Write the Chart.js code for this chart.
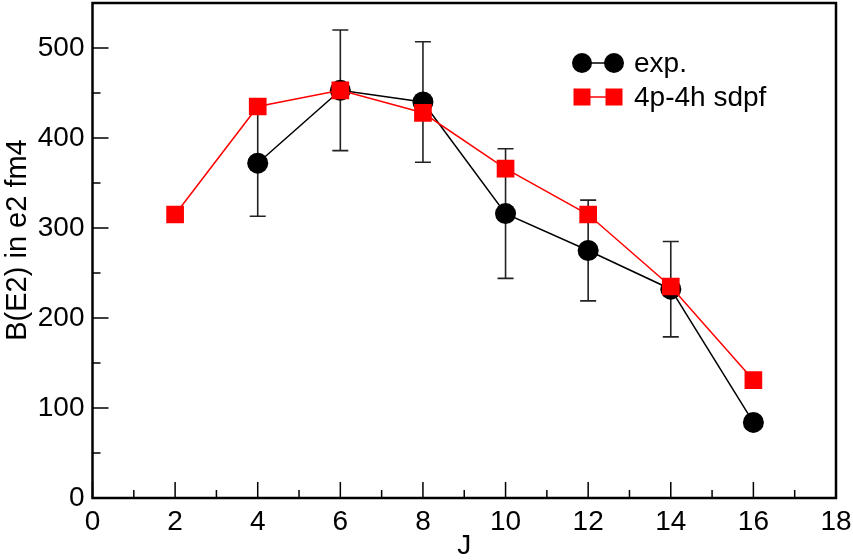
<!DOCTYPE html>
<html>
<head>
<meta charset="utf-8">
<title>B(E2) vs J</title>
<script src="https://cdn.jsdelivr.net/npm/chart.js@4.4.1/dist/chart.umd.min.js"></script>
<style>
  body { margin: 0; background: #fff; }
  canvas { display: block; }
</style>
</head>
<body>
<canvas id="be2Chart" width="853" height="560"></canvas>
<script>
// Values
const jExp = [4, 6, 8, 10, 12, 14, 16];
const bExp = [372, 453, 440, 316, 275, 232, 84];
const errExp = [59, 67, 67, 72, 56, 53, 0];

const jTheory = [2, 4, 6, 8, 10, 12, 14, 16];
const bTheory = [315, 435, 453, 428, 366, 315, 235, 131];

const xTicks = [0, 2, 4, 6, 8, 10, 12, 14, 16, 18];
const xMinorTicks = [1, 3, 5, 7, 9, 11, 13, 15, 17];
const yTicks = [0, 100, 200, 300, 400, 500];
const yMinorTicks = [50, 150, 250, 350, 450];

const seriesNames = ['exp.', '4p-4h sdpf'];
const yTitle = 'B(E2) in e2 fm4';

const FONT = '"Liberation Sans", Arial, Helvetica, sans-serif';

// Error bars go under the markers, frame + inward ticks + legend on top
const gracePlugin = {
    id: 'gracePlugin',
    beforeDatasetsDraw(chart) {
        const ctx = chart.ctx;
        const xs = chart.scales.x;
        const ys = chart.scales.y;
        ctx.save();
        ctx.strokeStyle = '#222';
        ctx.lineWidth = 1.6;
        jExp.forEach((j, i) => {
            if (!errExp[i]) return;
            const px = xs.getPixelForValue(j);
            const top = ys.getPixelForValue(bExp[i] + errExp[i]);
            const bot = ys.getPixelForValue(bExp[i] - errExp[i]);
            ctx.beginPath();
            ctx.moveTo(px, top); ctx.lineTo(px, bot);
            ctx.moveTo(px - 8, top); ctx.lineTo(px + 8, top);
            ctx.moveTo(px - 8, bot); ctx.lineTo(px + 8, bot);
            ctx.stroke();
        });
        ctx.restore();
    },
    afterDraw(chart) {
        const ctx = chart.ctx;
        const area = chart.chartArea;
        const xs = chart.scales.x;
        const ys = chart.scales.y;
        ctx.save();
        ctx.strokeStyle = '#000';

        // inward ticks
        ctx.lineWidth = 1.5;
        ctx.beginPath();
        xTicks.forEach(v => {
            const px = xs.getPixelForValue(v);
            ctx.moveTo(px, area.bottom); ctx.lineTo(px, area.bottom - 16);
        });
        xMinorTicks.forEach(v => {
            const px = xs.getPixelForValue(v);
            ctx.moveTo(px, area.bottom); ctx.lineTo(px, area.bottom - 8);
        });
        yTicks.forEach(v => {
            const py = ys.getPixelForValue(v);
            ctx.moveTo(area.left, py); ctx.lineTo(area.left + 16, py);
        });
        yMinorTicks.forEach(v => {
            const py = ys.getPixelForValue(v);
            ctx.moveTo(area.left, py); ctx.lineTo(area.left + 8, py);
        });
        ctx.stroke();

        // frame
        ctx.lineWidth = 2.5;
        ctx.strokeRect(area.left, area.top, area.right - area.left, area.bottom - area.top);

        // y axis title, sits a little above the middle like the original
        ctx.fillStyle = '#000';
        ctx.font = '29px ' + FONT;
        ctx.textAlign = 'center';
        ctx.textBaseline = 'middle';
        ctx.translate(18, 240);
        ctx.rotate(-Math.PI / 2);
        ctx.fillText(yTitle, 0, 0);
        ctx.setTransform(1, 0, 0, 1, 0, 0);

        // legend
        const sets = chart.data.datasets;
        const rows = [{ ds: sets[1], y: 63 }, { ds: sets[0], y: 97 }];
        rows.forEach(row => {
            const ds = row.ds;
            ctx.strokeStyle = ds.borderColor;
            ctx.lineWidth = ds.borderWidth;
            ctx.beginPath();
            ctx.moveTo(582, row.y); ctx.lineTo(614, row.y);
            ctx.stroke();
            ctx.fillStyle = ds.pointBackgroundColor;
            [582, 614].forEach(px => {
                if (ds.pointStyle === 'circle') {
                    ctx.beginPath();
                    ctx.arc(px, row.y, 10, 0, Math.PI * 2);
                    ctx.fill();
                } else {
                    ctx.fillRect(px - 8.5, row.y - 8.5, 17, 17);
                }
            });
            ctx.fillStyle = '#000';
            ctx.font = '28px ' + FONT;
            ctx.textBaseline = 'middle';
            ctx.textAlign = 'left';
            ctx.fillText(ds.label, 634, row.y + 1);
        });
        ctx.restore();
    }
};

function initChart() {
    const canvas = document.getElementById('be2Chart');
    return new Chart(canvas.getContext('2d'), {
        type: 'scatter',
        data: {
            datasets: [{
                label: seriesNames[1],
                data: jTheory.map((j, i) => ({ x: j, y: bTheory[i] })),
                showLine: true,
                borderColor: '#ff0000',
                borderWidth: 1.5,
                pointStyle: 'rect',
                pointRadius: 12.5,
                pointBackgroundColor: '#ff0000',
                pointBorderWidth: 0,
                order: 0
            }, {
                label: seriesNames[0],
                data: jExp.map((j, i) => ({ x: j, y: bExp[i] })),
                showLine: true,
                borderColor: '#000000',
                borderWidth: 1.5,
                pointStyle: 'circle',
                pointRadius: 10.5,
                pointBackgroundColor: '#000000',
                pointBorderWidth: 0,
                order: 1
            }]
        },
        options: {
            responsive: false,
            animation: false,
            layout: {
                // no extra room for big markers, the frame sits near the canvas top
                autoPadding: false,
                padding: { top: 3, right: 17, left: 0, bottom: 0 }
            },
            plugins: {
                legend: { display: false },
                tooltip: { enabled: false }
            },
            scales: {
                x: {
                    type: 'linear',
                    min: 0,
                    max: 18,
                    afterBuildTicks: s => { s.ticks = xTicks.map(v => ({ value: v })); },
                    afterFit: s => {
                        s.height = 62;
                        s.paddingLeft = 0;
                        s.paddingRight = 0;
                    },
                    grid: { display: false, drawTicks: false },
                    border: { display: false },
                    ticks: {
                        color: '#000',
                        font: { family: FONT, size: 28 },
                        padding: 7,
                        maxRotation: 0,
                        autoSkip: false
                    },
                    title: {
                        display: true,
                        text: 'J',
                        color: '#000',
                        font: { family: FONT, size: 28 },
                        padding: { top: 0, bottom: -3 }
                    }
                },
                y: {
                    type: 'linear',
                    min: 0,
                    max: 550,
                    afterBuildTicks: s => { s.ticks = yTicks.map(v => ({ value: v })); },
                    afterFit: s => {
                        s.width = 92.5;
                        s.paddingTop = 0;
                        s.paddingBottom = 0;
                    },
                    grid: { display: false, drawTicks: false },
                    border: { display: false },
                    ticks: {
                        color: '#000',
                        font: { family: FONT, size: 28 },
                        padding: 8
                    }
                }
            }
        },
        plugins: [gracePlugin]
    });
}

initChart();
</script>
</body>
</html>
